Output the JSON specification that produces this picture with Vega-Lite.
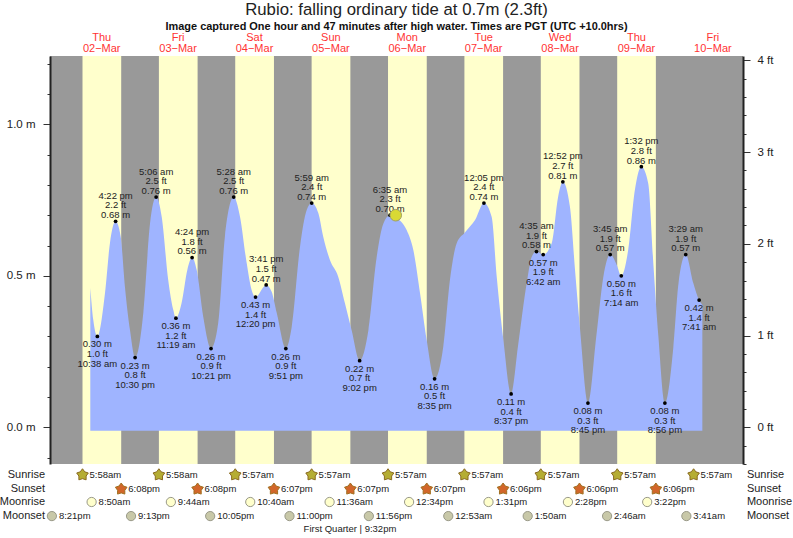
{
"$schema":"https://vega.github.io/schema/vega-lite/v6.json",
"width":693,"height":408,
"autosize":{"type":"none"},
"padding":{"left":50,"top":56,"right":50,"bottom":74},
"background":"white",
"config":{"view":{"fill":"#999999","stroke":null},"font":"Liberation Sans","text":{"font":"Liberation Sans"}},
"title":{"text":"Rubio: falling  ordinary tide at 0.7m (2.3ft)","subtitle":"Image captured One hour and 47 minutes after high water. Times are PGT (UTC +10.0hrs)","font":"Liberation Sans","fontSize":16.75,"fontWeight":"normal","color":"#222222","subtitleFont":"Liberation Sans","subtitleFontSize":10.95,"subtitleFontWeight":"bold","subtitleColor":"#111111","subtitlePadding":2,"anchor":"middle","offset":0},
"datasets":{
"days":[{"sunrise":5.97,"sunset":18.13},{"sunrise":29.97,"sunset":42.13},{"sunrise":53.95,"sunset":66.12},{"sunrise":77.95,"sunset":90.12},{"sunrise":101.95,"sunset":114.12},{"sunrise":125.95,"sunset":138.1},{"sunrise":149.95,"sunset":162.1},{"sunrise":173.95,"sunset":186.1}],
"tide":[{"h":8.42,"m":0.46},{"h":9.36,"m":0.354},{"h":10.63,"m":0.30},{"h":13.04,"m":0.443},{"h":14.6,"m":0.608},{"h":16.37,"m":0.68},{"h":17.96,"m":0.63},{"h":19.3,"m":0.464},{"h":20.9,"m":0.32},{"h":22.5,"m":0.23},{"h":25.07,"m":0.377},{"h":27.2,"m":0.674},{"h":29.1,"m":0.76},{"h":30.85,"m":0.695},{"h":32.9,"m":0.486},{"h":34.5,"m":0.387},{"h":35.32,"m":0.36},{"h":37.1,"m":0.41},{"h":38.9,"m":0.519},{"h":40.4,"m":0.56},{"h":41.85,"m":0.519},{"h":43.9,"m":0.365},{"h":46.35,"m":0.26},{"h":48.6,"m":0.344},{"h":50.7,"m":0.629},{"h":53.47,"m":0.76},{"h":55.45,"m":0.695},{"h":57.55,"m":0.542},{"h":59.1,"m":0.453},{"h":60.33,"m":0.43},{"h":63.68,"m":0.47},{"h":65.4,"m":0.447},{"h":67,"m":0.377},{"h":69.85,"m":0.26},{"h":71.7,"m":0.332},{"h":74.3,"m":0.596},{"h":76.4,"m":0.717},{"h":77.98,"m":0.74},{"h":80.05,"m":0.707},{"h":81.6,"m":0.629},{"h":83.7,"m":0.552},{"h":86.3,"m":0.497},{"h":88.4,"m":0.41},{"h":90.5,"m":0.321},{"h":93.03,"m":0.22},{"h":95.8,"m":0.321},{"h":98.4,"m":0.563},{"h":100.5,"m":0.673},{"h":102.58,"m":0.70},{"h":104.7,"m":0.69},{"h":107.8,"m":0.651},{"h":109.9,"m":0.585},{"h":112,"m":0.443},{"h":114.1,"m":0.288},{"h":116.58,"m":0.16},{"h":119.3,"m":0.266},{"h":121.4,"m":0.486},{"h":123.5,"m":0.607},{"h":126.1,"m":0.643},{"h":129.3,"m":0.684},{"h":132.08,"m":0.74},{"h":134.5,"m":0.695},{"h":136.1,"m":0.497},{"h":138.2,"m":0.288},{"h":140.62,"m":0.11},{"h":142.9,"m":0.277},{"h":145.5,"m":0.475},{"h":147.1,"m":0.563},{"h":148.58,"m":0.58},{"h":150.7,"m":0.57},{"h":153.4,"m":0.608},{"h":155.4,"m":0.761},{"h":156.87,"m":0.81},{"h":159.1,"m":0.728},{"h":160.7,"m":0.519},{"h":162.3,"m":0.321},{"h":164.75,"m":0.08},{"h":167.5,"m":0.311},{"h":169.6,"m":0.497},{"h":171.75,"m":0.57},{"h":173.8,"m":0.536},{"h":175.23,"m":0.50},{"h":177.4,"m":0.585},{"h":179.5,"m":0.783},{"h":181.53,"m":0.86},{"h":183.7,"m":0.805},{"h":185.3,"m":0.541},{"h":186.9,"m":0.299},{"h":188.93,"m":0.08},{"h":191.6,"m":0.266},{"h":193.2,"m":0.475},{"h":195.48,"m":0.57},{"h":197.9,"m":0.475},{"h":199.68,"m":0.42},{"h":200.7,"m":0.404}],
"extremes":[
{"h":10.63,"m":0.30,"kind":"low","label":"0.30 m\n1.0 ft\n10:38 am"},
{"h":16.37,"m":0.68,"kind":"high","label":"4:22 pm\n2.2 ft\n0.68 m"},
{"h":22.5,"m":0.23,"kind":"low","label":"0.23 m\n0.8 ft\n10:30 pm"},
{"h":29.1,"m":0.76,"kind":"high","label":"5:06 am\n2.5 ft\n0.76 m"},
{"h":35.32,"m":0.36,"kind":"low","label":"0.36 m\n1.2 ft\n11:19 am"},
{"h":40.4,"m":0.56,"kind":"high","label":"4:24 pm\n1.8 ft\n0.56 m"},
{"h":46.35,"m":0.26,"kind":"low","label":"0.26 m\n0.9 ft\n10:21 pm"},
{"h":53.47,"m":0.76,"kind":"high","label":"5:28 am\n2.5 ft\n0.76 m"},
{"h":60.33,"m":0.43,"kind":"low","label":"0.43 m\n1.4 ft\n12:20 pm"},
{"h":63.68,"m":0.47,"kind":"high","label":"3:41 pm\n1.5 ft\n0.47 m"},
{"h":69.85,"m":0.26,"kind":"low","label":"0.26 m\n0.9 ft\n9:51 pm"},
{"h":77.98,"m":0.74,"kind":"high","label":"5:59 am\n2.4 ft\n0.74 m"},
{"h":93.03,"m":0.22,"kind":"low","label":"0.22 m\n0.7 ft\n9:02 pm"},
{"h":102.58,"m":0.70,"kind":"high","label":"6:35 am\n2.3 ft\n0.70 m"},
{"h":116.58,"m":0.16,"kind":"low","label":"0.16 m\n0.5 ft\n8:35 pm"},
{"h":132.08,"m":0.74,"kind":"high","label":"12:05 pm\n2.4 ft\n0.74 m"},
{"h":140.62,"m":0.11,"kind":"low","label":"0.11 m\n0.4 ft\n8:37 pm"},
{"h":148.58,"m":0.58,"kind":"high","label":"4:35 am\n1.9 ft\n0.58 m"},
{"h":150.7,"m":0.57,"kind":"low","label":"0.57 m\n1.9 ft\n6:42 am"},
{"h":156.87,"m":0.81,"kind":"high","label":"12:52 pm\n2.7 ft\n0.81 m"},
{"h":164.75,"m":0.08,"kind":"low","label":"0.08 m\n0.3 ft\n8:45 pm"},
{"h":171.75,"m":0.57,"kind":"high","label":"3:45 am\n1.9 ft\n0.57 m"},
{"h":175.23,"m":0.50,"kind":"low","label":"0.50 m\n1.6 ft\n7:14 am"},
{"h":181.53,"m":0.86,"kind":"high","label":"1:32 pm\n2.8 ft\n0.86 m"},
{"h":188.93,"m":0.08,"kind":"low","label":"0.08 m\n0.3 ft\n8:56 pm"},
{"h":195.48,"m":0.57,"kind":"high","label":"3:29 am\n1.9 ft\n0.57 m"},
{"h":199.68,"m":0.42,"kind":"low","label":"0.42 m\n1.4 ft\n7:41 am"}],
"dayNames":[{"h":12,"d":"Thu","date":"02−Mar"},{"h":36,"d":"Fri","date":"03−Mar"},{"h":60,"d":"Sat","date":"04−Mar"},{"h":84,"d":"Sun","date":"05−Mar"},{"h":108,"d":"Mon","date":"06−Mar"},{"h":132,"d":"Tue","date":"07−Mar"},{"h":156,"d":"Wed","date":"08−Mar"},{"h":180,"d":"Thu","date":"09−Mar"},{"h":204,"d":"Fri","date":"10−Mar"}],
"sunrise":[{"h":5.97,"t":"5:58am"},{"h":29.97,"t":"5:58am"},{"h":53.95,"t":"5:57am"},{"h":77.95,"t":"5:57am"},{"h":101.95,"t":"5:57am"},{"h":125.95,"t":"5:57am"},{"h":149.95,"t":"5:57am"},{"h":173.95,"t":"5:57am"},{"h":197.95,"t":"5:57am"}],
"sunset":[{"h":18.13,"t":"6:08pm"},{"h":42.13,"t":"6:08pm"},{"h":66.12,"t":"6:07pm"},{"h":90.12,"t":"6:07pm"},{"h":114.12,"t":"6:07pm"},{"h":138.1,"t":"6:06pm"},{"h":162.1,"t":"6:06pm"},{"h":186.1,"t":"6:06pm"}],
"moonrise":[{"h":8.83,"t":"8:50am"},{"h":33.73,"t":"9:44am"},{"h":58.67,"t":"10:40am"},{"h":83.6,"t":"11:36am"},{"h":108.57,"t":"12:34pm"},{"h":133.52,"t":"1:31pm"},{"h":158.47,"t":"2:28pm"},{"h":183.37,"t":"3:22pm"}],
"moonset":[{"h":-3.65,"t":"8:21pm"},{"h":21.22,"t":"9:13pm"},{"h":46.08,"t":"10:05pm"},{"h":71,"t":"11:00pm"},{"h":95.93,"t":"11:56pm"},{"h":120.88,"t":"12:53am"},{"h":145.83,"t":"1:50am"},{"h":170.77,"t":"2:46am"},{"h":195.68,"t":"3:41am"}]
},
"resolve":{"scale":{"y":"independent"}},
"layer":[
{"encoding":{"x":{"field":"h","type":"quantitative","scale":{"domain":[-4.24,213.47],"nice":false,"zero":false},"axis":null}},
"layer":[
{"data":{"name":"days"},"mark":{"type":"rect","fill":"#FFFFCC"},
 "encoding":{"x":{"field":"sunrise","type":"quantitative"},"x2":{"field":"sunset"}}},
{"data":{"name":"tide"},"mark":{"type":"area","fill":"#9FB4FF","interpolate":"monotone"},
 "encoding":{"y":{"field":"m","type":"quantitative","scale":{"domain":[-0.1211,1.2254],"nice":false,"zero":false},"axis":null},
  "y2":{"datum":-0.011}}},
{"data":{"name":"extremes"},"transform":[{"filter":"datum.kind=='high'"}],"mark":{"type":"text","fontSize":9.5,"color":"#222222","lineBreak":"\n","lineHeight":9.6,"baseline":"top","dy":-30.4},
 "encoding":{"y":{"field":"m","type":"quantitative","axis":null},"text":{"field":"label"}}},
{"data":{"name":"extremes"},"transform":[{"filter":"datum.kind=='low'"}],"mark":{"type":"text","fontSize":9.5,"color":"#222222","lineBreak":"\n","lineHeight":9.6,"baseline":"top","dy":3},
 "encoding":{"y":{"field":"m","type":"quantitative","axis":null},"text":{"field":"label"}}},
{"data":{"name":"extremes"},"mark":{"type":"point","filled":true,"color":"black","size":14,"opacity":1},
 "encoding":{"y":{"field":"m","type":"quantitative","axis":null}}},
{"data":{"values":[{"h":104.37,"m":0.70}]},"mark":{"type":"point","filled":true,"fill":"#D9D935","stroke":"#A0A060","strokeWidth":1,"size":135,"opacity":1},
 "encoding":{"y":{"field":"m","type":"quantitative","axis":null}}},
{"data":{"name":"dayNames"},"mark":{"type":"text","fontSize":11,"color":"#FF3333"},"encoding":{"y":{"datum":1.285,"axis":null},"text":{"field":"d"}}},
{"data":{"name":"dayNames"},"mark":{"type":"text","fontSize":11,"color":"#FF3333"},"encoding":{"y":{"datum":1.249,"axis":null},"text":{"field":"date"}}},
{"data":{"name":"sunrise"},"mark":{"type":"point","shape":"M0,-1L0.364,-0.5L0.95,-0.31L0.59,0.19L0.59,0.81L0,0.62L-0.59,0.81L-0.59,0.19L-0.95,-0.31L-0.364,-0.5Z","filled":true,"fill":"#B5AD33","stroke":"#8A6A20","strokeWidth":1,"size":150,"opacity":1},"encoding":{"y":{"datum":-0.157,"axis":null}}},
{"data":{"name":"sunrise"},"mark":{"type":"text","fontSize":9.5,"color":"#222222","align":"left","dx":7},"encoding":{"y":{"datum":-0.157,"axis":null},"text":{"field":"t"}}},
{"data":{"name":"sunset"},"mark":{"type":"point","shape":"M0,-1L0.364,-0.5L0.95,-0.31L0.59,0.19L0.59,0.81L0,0.62L-0.59,0.81L-0.59,0.19L-0.95,-0.31L-0.364,-0.5Z","filled":true,"fill":"#D2662A","stroke":"#A07020","strokeWidth":1,"size":150,"opacity":1},"encoding":{"y":{"datum":-0.204,"axis":null}}},
{"data":{"name":"sunset"},"mark":{"type":"text","fontSize":9.5,"color":"#222222","align":"left","dx":7},"encoding":{"y":{"datum":-0.204,"axis":null},"text":{"field":"t"}}},
{"data":{"name":"moonrise"},"mark":{"type":"point","shape":"circle","filled":true,"fill":"#FFFFCC","stroke":"#999988","strokeWidth":1,"size":85,"opacity":1},"encoding":{"y":{"datum":-0.2465,"axis":null}}},
{"data":{"name":"moonrise"},"mark":{"type":"text","fontSize":9.5,"color":"#222222","align":"left","dx":7},"encoding":{"y":{"datum":-0.2465,"axis":null},"text":{"field":"t"}}},
{"data":{"name":"moonset"},"mark":{"type":"point","shape":"circle","filled":true,"fill":"#C8C8A8","stroke":"#999988","strokeWidth":1,"size":85,"opacity":1},"encoding":{"y":{"datum":-0.293,"axis":null}}},
{"data":{"name":"moonset"},"mark":{"type":"text","fontSize":9.5,"color":"#222222","align":"left","dx":7},"encoding":{"y":{"datum":-0.293,"axis":null},"text":{"field":"t"}}},
{"data":{"values":[{"h":90,"t":"First Quarter | 9:32pm"}]},"mark":{"type":"text","fontSize":9.5,"color":"#222222"},"encoding":{"y":{"datum":-0.336,"axis":null},"text":{"field":"t"}}},
{"data":{"values":[{"h":-5.8,"name":"Sunrise","row":-0.157},{"h":-5.8,"name":"Sunset","row":-0.204},{"h":-5.8,"name":"Moonrise","row":-0.2465},{"h":-5.8,"name":"Moonset","row":-0.293},{"h":214.7,"name":"Sunrise","row":-0.157},{"h":214.7,"name":"Sunset","row":-0.204},{"h":214.7,"name":"Moonrise","row":-0.2465},{"h":214.7,"name":"Moonset","row":-0.293}]},"mark":{"type":"text","fontSize":11,"color":"#222222","align":{"expr":"datum.h<0?'right':'left'"}},"encoding":{"y":{"field":"row","type":"quantitative","axis":null},"text":{"field":"name"}}}
]},
{"data":{"values":[{"m":-0.1},{"m":1.2}]},"mark":{"type":"point","opacity":0},
 "encoding":{"y":{"field":"m","type":"quantitative","scale":{"domain":[-0.1211,1.2254],"nice":false,"zero":false},
  "axis":{"orient":"left","title":null,"grid":false,"values":[-0.1,0,0.1,0.2,0.3,0.4,0.5,0.6,0.7,0.8,0.9,1,1.1,1.2],"labelExpr":"abs(datum.value*2-round(datum.value*2))<0.01 ? format(datum.value,'.1f')+' m' : ''","labelFontSize":11.5,"labelColor":"#222222","labelFont":"Liberation Sans","labelPadding":8,"domainColor":"#222222","domainWidth":2,"tickColor":"#333333","tickSize":{"expr":"abs(datum.value*2-round(datum.value*2))<0.01 ? 7 : 3"},"labelOverlap":false}}}},
{"data":{"values":[{"ft":-0.4},{"ft":4}]},"mark":{"type":"point","opacity":0},
 "encoding":{"y":{"field":"ft","type":"quantitative","scale":{"domain":[-0.4,4.047],"nice":false,"zero":false},
  "axis":{"orient":"right","title":null,"grid":false,"values":[-0.4,-0.2,0,0.2,0.4,0.6,0.8,1,1.2,1.4,1.6,1.8,2,2.2,2.4,2.6,2.8,3,3.2,3.4,3.6,3.8,4],"labelExpr":"abs(datum.value-round(datum.value))<0.01 ? format(datum.value,'d')+' ft' : ''","labelFontSize":11.5,"labelColor":"#222222","labelFont":"Liberation Sans","labelPadding":7,"domainColor":"#222222","domainWidth":2,"tickColor":"#333333","tickSize":{"expr":"abs(datum.value-round(datum.value))<0.01 ? 7 : 3"},"labelOverlap":false}}}}
]
}
